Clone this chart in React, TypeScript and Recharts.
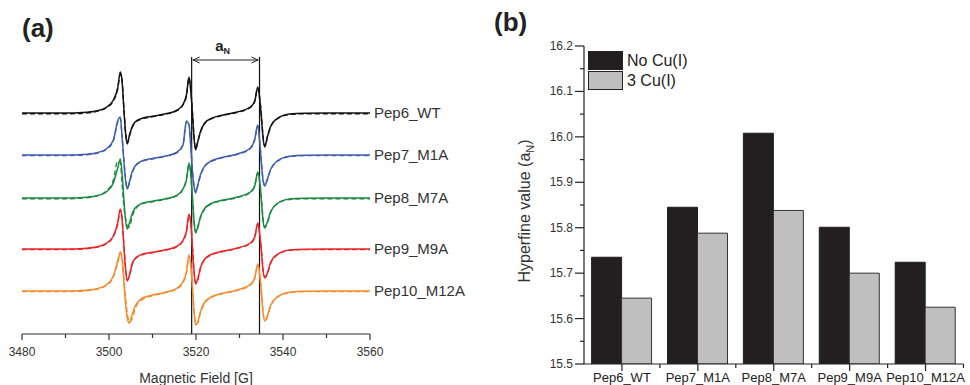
import React from "react";
import { LineChart, Line, XAxis, YAxis, ReferenceLine, BarChart, Bar, Legend } from "recharts";

const FONT = "'Liberation Sans', Arial, Helvetica, sans-serif";

// (a) EPR spectra: field in G, intensity in a.u. relative to each trace's baseline
const FIELD = [3480, 3490, 3494, 3497, 3499.5, 3501, 3502, 3502.6, 3503, 3503.4, 3503.8, 3504.2, 3504.7, 3505.3, 3506, 3507.5, 3510, 3513, 3515.5, 3517, 3517.8, 3518.4, 3518.8, 3519.2, 3519.5, 3519.9, 3520.4, 3521, 3522, 3523.5, 3526, 3529.5, 3532.5, 3533.5, 3534.2, 3534.7, 3535.1, 3535.4, 3535.8, 3536.4, 3537.1, 3538.5, 3541.5, 3545, 3550, 3560];

const WT = [0, 0, 0.5, 2, 6, 13, 25, 41, 32, 5, -20, -31, -22, -14, -9, -5.5, -3.3, -0.8, 2.5, 8.5, 18, 36, 22, -2, -22, -37, -29, -19, -10, -5.5, -2.2, 1, 6, 12, 26, 12, -8, -24, -34, -24, -14, -6, -1, -0.2, 0, 0];
const WT_FIT = [-0.8, -0.8, -0.2, 1.5, 5.5, 12, 24, 39, 33, 7, -18, -30, -23, -15, -9.5, -6, -3.8, -1.2, 2, 8, 17, 35, 23, 0, -21, -36, -29, -19.5, -10.5, -6, -2.6, 0.6, 5.5, 11.5, 25, 13, -6, -23, -33, -24.5, -14.5, -6.5, -1.5, -0.8, -0.8, -0.8];

const M1A = [0, 0, 0.5, 2, 6.5, 15, 34, 38, 18, -5, -25, -34, -27, -17, -11, -6, -3.5, -1, 2.5, 10, 34, 30, 8, -18, -30, -38, -30, -20, -11, -6, -2.5, 1, 7, 16, 30, 10, -12, -25, -31, -24, -15, -6.5, -1.2, -0.2, 0, 0];
const M1A_FIT = [-0.6, -0.6, 0, 1.5, 6, 14, 33, 37, 19, -4, -23, -33, -28, -18, -11.5, -6.5, -4, -1.3, 2, 9.5, 33, 31, 9, -16, -29, -37, -31, -21, -11.5, -6.5, -2.8, 0.6, 6.5, 15, 29, 12, -10, -24, -30, -25, -15.5, -7, -1.6, -0.6, -0.6, -0.6];

const M7A = [0, 0, 0.5, 2, 6.5, 15, 30, 39, 25, 0, -22, -31, -25, -16, -10, -5.5, -3.2, -0.8, 2.5, 9, 18, 35, 24, 0, -20, -35, -29, -19, -10.5, -5.5, -2.3, 1, 6, 12, 26, 14, -6, -22, -30, -24, -14.5, -6, -1, -0.2, 0, 0];
const M7A_FIT = [-0.8, -0.8, 0, 1.8, 7.5, 18, 37, 36, 14, -8, -20, -28, -29, -19, -11.5, -6, -3.8, -1.2, 2, 8.5, 19, 34, 22, -3, -22, -34, -30, -20, -11, -6, -2.8, 0.5, 5.5, 12, 25, 15, -4, -21, -29, -25, -15, -6.5, -1.5, -0.8, -0.8, -0.8];

const M9A = [0, 0, 0.5, 2, 6, 13, 26, 40, 30, 4, -20, -32, -26, -15, -9.5, -5.5, -3.3, -0.8, 2.5, 8.5, 18, 35, 25, 0, -20, -35, -30, -19, -10, -5.5, -2.3, 1, 6, 12, 26, 13, -6, -21, -29, -24, -14, -6, -1, -0.2, 0, 0];
const M9A_FIT = [-0.6, -0.6, 0, 1.6, 5.5, 12.5, 25, 39, 31, 6, -18, -31, -27, -16, -10, -6, -3.7, -1.2, 2, 8, 17, 34, 26, 2, -18, -34, -31, -20, -10.5, -6, -2.7, 0.6, 5.5, 11.5, 25, 14, -4, -20, -28, -25, -15, -6.5, -1.4, -0.6, -0.6, -0.6];

const M12A = [0, 0, 0.5, 2, 6.5, 15, 30, 39, 32, 10, -12, -27, -32, -24, -15, -7.5, -4, -1.2, 2.5, 9, 19, 36, 26, 2, -18, -34, -31, -21, -11, -6, -2.5, 1, 6.5, 13, 27, 14, -5, -21, -30, -25, -15, -6.5, -1.2, -0.2, 0, 0];
const M12A_FIT = [-0.6, -0.6, 0, 1.6, 6, 14, 28, 38, 34, 14, -6, -22, -31, -28, -18, -9, -4.8, -1.6, 2, 8.5, 18, 35, 27, 4, -16, -33, -32, -22, -12, -6.5, -2.8, 0.6, 6, 12.5, 26, 15, -4, -20, -29, -26, -16, -7, -1.6, -0.6, -0.6, -0.6];

// vertical stacking of the spectra (a.u.)
const BASELINES = [221, 179, 136, 85, 43];
const TRACE_NAMES = ["Pep6_WT", "Pep7_M1A", "Pep8_M7A", "Pep9_M9A", "Pep10_M12A"];
const FIELD_TICKS = [3480, 3490, 3500, 3510, 3520, 3530, 3540, 3550, 3560];
const A_N_LINES = [3519, 3534.6];

// (b) hyperfine values
const PEPTIDES = ["Pep6_WT", "Pep7_M1A", "Pep8_M7A", "Pep9_M9A", "Pep10_M12A"];
const NO_CU = [15.735, 15.845, 16.008, 15.801, 15.724];
const CU3 = [15.645, 15.788, 15.838, 15.7, 15.625];
const HF_TICKS = [15.5, 15.55, 15.6, 15.65, 15.7, 15.75, 15.8, 15.85, 15.9, 15.95, 16.0, 16.05, 16.1, 16.15, 16.2];

const TRACES = [
  { key: "wt", color: "#141414", y: WT, fit: WT_FIT },
  { key: "m1a", color: "#3f5fae", y: M1A, fit: M1A_FIT },
  { key: "m7a", color: "#1c8a40", y: M7A, fit: M7A_FIT },
  { key: "m9a", color: "#ec2529", y: M9A, fit: M9A_FIT },
  { key: "m12a", color: "#f58a2a", y: M12A, fit: M12A_FIT },
];

const spectra = FIELD.map((f, i) => {
  const row: Record<string, number> = { f };
  TRACES.forEach((t, k) => {
    row[t.key] = BASELINES[k] + t.y[i];
    row[t.key + "Fit"] = BASELINES[k] + t.fit[i];
  });
  return row;
});

const hfData = PEPTIDES.map((name, i) => ({ name, noCu: NO_CU[i], cu3: CU3[i] }));

const A_TOP = 277;
const BAND = 379.5 / PEPTIDES.length;

const FieldTick = (p: any) => {
  const v = p.payload.value;
  const major = v % 20 === 0;
  return (
    <g>
      <line x1={p.x} x2={p.x} y1={p.y} y2={p.y + (major ? 6 : 4)} stroke="#333" strokeWidth={1.2} />
      {major && (
        <text x={p.x} y={p.y + 22} textAnchor="middle" fontSize={12} fill="#333" fontFamily={FONT}>
          {v}
        </text>
      )}
    </g>
  );
};

const endLabel = (name: string) => (p: any) => {
  if (p.index !== FIELD.length - 1) return null;
  const x = p.viewBox?.x ?? p.x;
  const y = p.viewBox?.y ?? p.y;
  return (
    <text x={x + 4} y={y + 5} fontSize={15} fill="#333" fontFamily={FONT}>
      {name}
    </text>
  );
};

const ArrowShape = (p: any) => {
  const { x1, y1, x2 } = p;
  return (
    <g>
      <line x1={x1 + 1} y1={y1} x2={x2 - 1} y2={y1} stroke="#222" strokeWidth={1} />
      <path d={`M${x1 + 8},${y1 - 3} L${x1 + 1.5},${y1} L${x1 + 8},${y1 + 3}`} fill="none" stroke="#222" strokeWidth={1} />
      <path d={`M${x2 - 8},${y1 - 3} L${x2 - 1.5},${y1} L${x2 - 8},${y1 + 3}`} fill="none" stroke="#222" strokeWidth={1} />
      <text x={(x1 + x2) / 2 - 3} y={y1 - 9} textAnchor="middle" fontSize={15} fontWeight="bold" fill="#222" fontFamily={FONT}>
        a<tspan dy={3} fontSize={9}>N</tspan>
      </text>
    </g>
  );
};

const HfTick = (p: any) => {
  const v = p.payload.value;
  const major = Math.round(v * 100) % 10 === 0;
  return (
    <g>
      <line x1={p.x - (major ? 9 : 4)} x2={p.x} y1={p.y} y2={p.y} stroke="#222" strokeWidth={1.2} />
      {major && (
        <text x={p.x - 11} y={p.y + 4} textAnchor="end" fontSize={12} fill="#333" fontFamily={FONT}>
          {v.toFixed(1)}
        </text>
      )}
    </g>
  );
};

const PeptideTick = (p: any) => (
  <g>
    <line x1={p.x} x2={p.x} y1={p.y} y2={p.y + 7} stroke="#222" strokeWidth={1.2} />
    <line x1={p.x + BAND / 2} x2={p.x + BAND / 2} y1={p.y} y2={p.y + 4} stroke="#222" strokeWidth={1.2} />
    <text x={p.x} y={p.y + 18} textAnchor="middle" fontSize={13} fill="#222" fontFamily={FONT}>
      {p.payload.value}
    </text>
  </g>
);

const BAR_SERIES = [
  { key: "noCu", name: "No Cu(I)", fill: "#231f20", stroke: "#231f20" },
  { key: "cu3", name: "3 Cu(I)", fill: "#bfbfbf", stroke: "#333" },
];

const SwatchLegend = () => (
  <div style={{ fontFamily: FONT, fontSize: 16, color: "#222" }}>
    {BAR_SERIES.map((s) => (
      <div key={s.key} style={{ display: "flex", alignItems: "center", height: 19, marginBottom: 1 }}>
        <span style={{ display: "inline-block", width: 33, height: 17, background: s.fill, border: "1px solid #222", marginRight: 4 }} />
        {s.name}
      </div>
    ))}
  </div>
);

export default function App() {
  return (
    <div style={{ position: "absolute", left: 0, top: 0, width: 970, height: 385, overflow: "hidden", background: "#fff", fontFamily: FONT }}>
      <div style={{ position: "absolute", left: 22, top: 15, fontSize: 26, fontWeight: "bold", lineHeight: "26px", color: "#222" }}>(a)</div>
      <div style={{ position: "absolute", left: 494, top: 9, fontSize: 26, fontWeight: "bold", lineHeight: "26px", color: "#222" }}>(b)</div>

      <div style={{ position: "absolute", left: 0, top: 0 }}>
        <LineChart width={490} height={385} data={spectra} margin={{ top: 40, right: 120, bottom: 11, left: 22 }}>
          <XAxis
            type="number"
            dataKey="f"
            domain={[3480, 3560]}
            ticks={FIELD_TICKS}
            interval={0}
            tick={FieldTick}
            tickLine={false}
            tickSize={0}
            tickMargin={0}
            height={40}
            axisLine={{ stroke: "#333", strokeWidth: 1.2 }}
            label={(p: any) => (
              <text x={p.viewBox.x + p.viewBox.width / 2} y={p.viewBox.y + 49} textAnchor="middle" fontSize={14} fill="#333" fontFamily={FONT}>
                Magnetic Field [G]
              </text>
            )}
          />
          <YAxis hide width={0} domain={[0, 294]} />
          {A_N_LINES.map((x) => (
            <ReferenceLine key={x} segment={[{ x, y: 0 }, { x, y: A_TOP }]} stroke="#111" strokeWidth={1.2} ifOverflow="visible" />
          ))}
          {TRACES.map((t, k) => (
            <Line
              key={t.key}
              type="monotone"
              dataKey={t.key}
              stroke={t.color}
              strokeWidth={1.5}
              dot={false}
              activeDot={false}
              isAnimationActive={false}
              label={endLabel(TRACE_NAMES[k])}
            />
          ))}
          {TRACES.map((t) => (
            <Line
              key={t.key + "Fit"}
              type="monotone"
              dataKey={t.key + "Fit"}
              stroke={t.color}
              strokeWidth={1.4}
              strokeDasharray="5 3"
              dot={false}
              activeDot={false}
              isAnimationActive={false}
            />
          ))}
          <ReferenceLine
            segment={[{ x: A_N_LINES[0], y: A_TOP - 3 }, { x: A_N_LINES[1], y: A_TOP - 3 }]}
            ifOverflow="visible"
            shape={ArrowShape}
          />
        </LineChart>
      </div>

      <div style={{ position: "absolute", left: 490, top: 0 }}>
        <BarChart width={480} height={385} data={hfData} margin={{ top: 46, right: 6.5, bottom: 0, left: 0 }} barCategoryGap="10%" barGap={0}>
          <XAxis
            dataKey="name"
            interval={0}
            tick={PeptideTick}
            tickLine={false}
            tickSize={0}
            tickMargin={0}
            height={21}
            axisLine={{ stroke: "#222", strokeWidth: 1.2 }}
          />
          <YAxis
            type="number"
            domain={[15.5, 16.2]}
            allowDataOverflow
            ticks={HF_TICKS}
            interval={0}
            tick={HfTick}
            tickLine={false}
            tickSize={0}
            tickMargin={0}
            width={94}
            axisLine={{ stroke: "#222", strokeWidth: 1.2 }}
            label={(p: any) => (
              <text transform={`translate(${p.viewBox.x + 40},${p.viewBox.y + p.viewBox.height / 2 + 6}) rotate(-90)`} textAnchor="middle" fontSize={16} fill="#333" fontFamily={FONT}>
                Hyperfine value (a<tspan dy={4} fontSize={11}>N</tspan><tspan dy={-4}>)</tspan>
              </text>
            )}
          />
          <Legend layout="vertical" align="center" verticalAlign="middle" content={SwatchLegend} wrapperStyle={{ left: 98, top: 51, width: 120 }} />
          {BAR_SERIES.map((s) => (
            <Bar key={s.key} dataKey={s.key} name={s.name} fill={s.fill} stroke={s.stroke} strokeWidth={1} isAnimationActive={false} />
          ))}
        </BarChart>
      </div>
    </div>
  );
}
